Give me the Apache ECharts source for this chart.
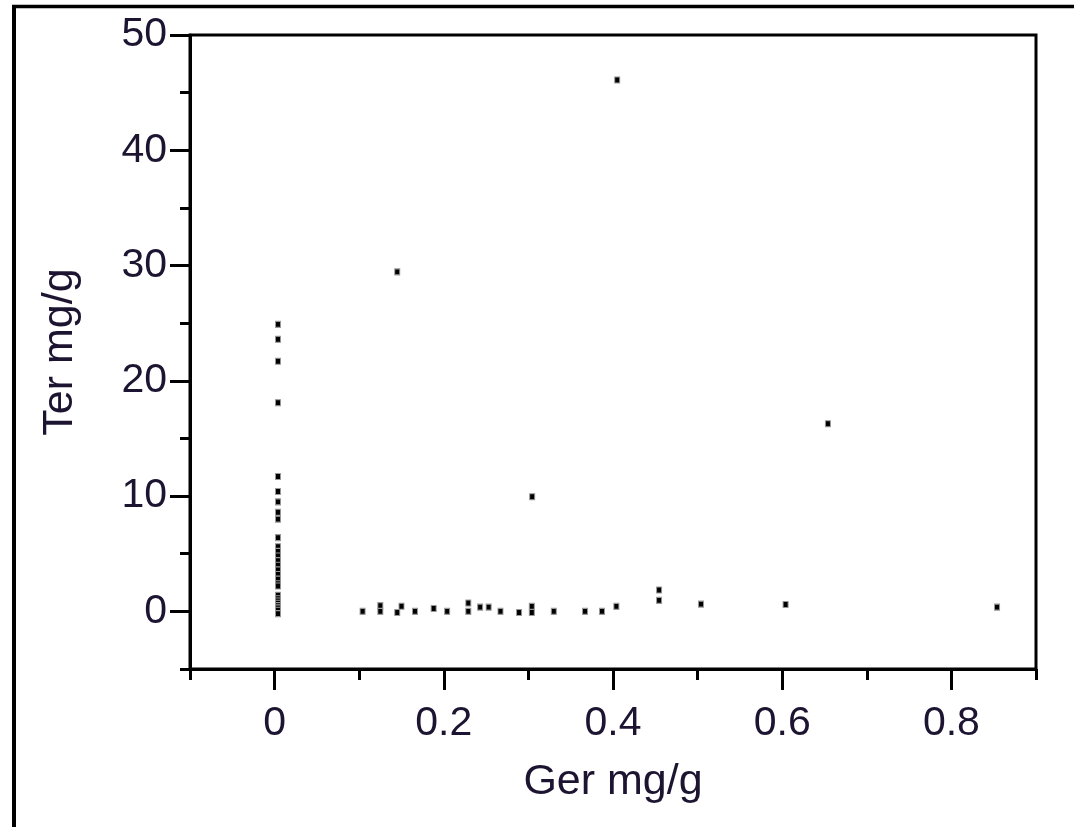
<!DOCTYPE html>
<html>
<head>
<meta charset="utf-8">
<script src="https://cdn.jsdelivr.net/npm/echarts@6/dist/echarts.min.js"></script>
<style>
html,body{margin:0;padding:0;background:#fff;}
#chart{width:1074px;height:827px;}
</style>
</head>
<body>
<div id="chart"></div>
<script>
// Ger mg/g (x) values
const gerValues = [
  0.004,0.004,0.004,0.004,0.004,0.004,0.004,0.004,0.004,0.004,
  0.004,0.004,0.004,0.004,0.004,0.004,0.004,0.004,0.004,0.004,
  0.004,0.004,0.004,0.004,0.004,0.004,0.004,0.004,
  0.104,0.125,0.125,0.150,0.145,0.166,0.188,0.204,0.229,0.229,
  0.243,0.253,0.267,0.289,0.304,0.304,0.330,0.367,0.387,0.404,
  0.4545,0.4545,0.504,0.604,0.854,0.654,0.3045,0.145,0.405
];
// Ter mg/g (y) values
const terValues = [
  24.9,23.6,21.7,18.1,11.7,10.4,9.5,8.6,8.0,6.4,
  5.6,5.2,4.8,4.4,4.0,3.6,3.2,2.8,2.4,2.2,
  1.4,1.1,0.9,0.7,0.5,0.3,0.1,-0.2,
  0.0,0.5,0.0,0.45,-0.1,0.0,0.25,0.0,0.72,0.0,
  0.37,0.37,0.0,-0.1,0.43,-0.1,0.0,0.0,0.0,0.43,
  1.85,0.95,0.63,0.6,0.37,16.27,9.94,29.45,46.1
];
const xMajorTicks = [0, 0.2, 0.4, 0.6, 0.8];
const yMajorTicks = [0, 10, 20, 30, 40, 50];
const xLabel = 'Ger mg/g';
const yLabel = 'Ter mg/g';

const points = gerValues.map((g, i) => [g, terValues[i]]);
const txtColor = '#1c1430';
const font = 'Liberation Sans, Arial, sans-serif';

function tickAxis(min, max, pos, values, len) {
  return {
    type: 'value', min: min, max: max, position: pos, offset: 0,
    axisLine: {show: false, onZero: false},
    axisTick: {show: true, length: len, customValues: values, lineStyle: {color: '#000', width: 3}},
    axisLabel: {show: false},
    splitLine: {show: false}
  };
}

const chart = echarts.init(document.getElementById('chart'), null, {renderer: 'canvas'});
chart.setOption({
  animation: false,
  backgroundColor: '#fff',
  graphic: [
    {type: 'line', shape: {x1: 12, y1: 6.5, x2: 1074, y2: 6.5}, style: {stroke: '#000', lineWidth: 3.5}},
    {type: 'line', shape: {x1: 14, y1: 8, x2: 14, y2: 827}, style: {stroke: '#000', lineWidth: 4}}
  ],
  grid: {left: 190, right: 38, top: 35, bottom: 158, show: true, borderColor: '#000', borderWidth: 3, containLabel: false},
  xAxis: [
    {
      type: 'value', min: -0.1, max: 0.9, interval: 0.1, position: 'bottom',
      name: xLabel, nameLocation: 'middle', nameGap: 92,
      nameTextStyle: {fontFamily: font, fontSize: 43, color: txtColor},
      axisLine: {show: true, onZero: false, lineStyle: {color: '#000', width: 3}},
      axisTick: {show: true, length: 11, lineStyle: {color: '#000', width: 3}},
      axisLabel: {
        margin: 34, fontFamily: font, fontSize: 41, color: txtColor, showMinLabel: true, showMaxLabel: true,
        formatter: v => (Math.abs(Math.round(v * 10)) % 2 === 0 ? String(Math.round(v * 10) / 10) : '')
      },
      splitLine: {show: false}
    },
    tickAxis(-0.1, 0.9, 'bottom', xMajorTicks, 21)
  ],
  yAxis: [
    {
      type: 'value', min: -5, max: 50, interval: 5, position: 'left',
      name: yLabel, nameLocation: 'middle', nameGap: 108, nameRotate: 90,
      nameTextStyle: {fontFamily: font, fontSize: 43, color: txtColor},
      axisLine: {show: true, onZero: false, lineStyle: {color: '#000', width: 3}},
      axisTick: {show: true, length: 10, lineStyle: {color: '#000', width: 3}},
      axisLabel: {
        margin: 23, padding: [8, 0, 0, 0], fontFamily: font, fontSize: 41, color: txtColor,
        formatter: v => (Math.round(v) % 10 === 0 ? String(Math.round(v)) : '')
      },
      splitLine: {show: false}
    },
    tickAxis(-5, 50, 'left', yMajorTicks, 20)
  ],
  series: [{
    type: 'scatter',
    xAxisIndex: 0, yAxisIndex: 0,
    data: points,
    symbol: 'rect',
    symbolSize: [5, 6],
    itemStyle: {color: '#000', borderColor: '#999', borderWidth: 1, opacity: 1}
  }]
});
</script>
</body>
</html>
